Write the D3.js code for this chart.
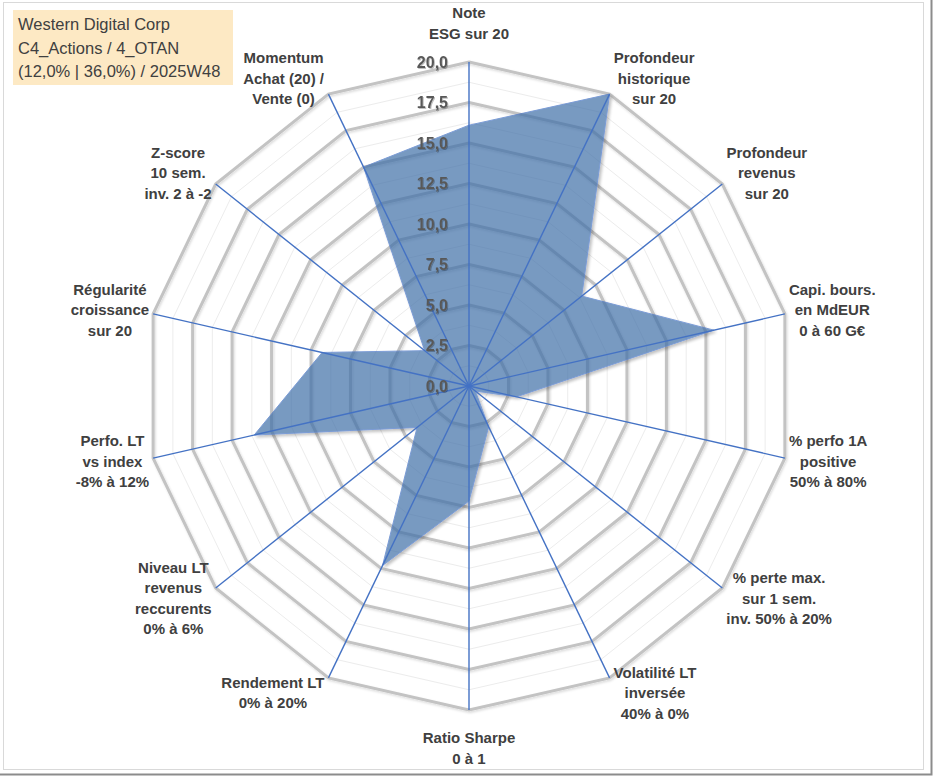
<!DOCTYPE html>
<html>
<head>
<meta charset="utf-8">
<script src="https://cdn.jsdelivr.net/npm/d3@7"></script>
<style>
  body { margin: 0; background: #ffffff; }
  svg { display: block; }
</style>
</head>
<body>
<svg id="radar"></svg>
<script>
// Chart data
const categories = [
  "Note\nESG sur 20",
  "Profondeur\nhistorique\nsur 20",
  "Profondeur\nrevenus\nsur 20",
  "Capi. bours.\nen MdEUR\n0 à 60 G€",
  "% perfo 1A\npositive\n50% à 80%",
  "% perte max.\nsur 1 sem.\ninv. 50% à 20%",
  "Volatilité LT\ninversée\n40% à 0%",
  "Ratio Sharpe\n0 à 1",
  "Rendement LT\n0% à 20%",
  "Niveau LT\nrevenus\nreccurents\n0% à 6%",
  "Perfo. LT\nvs index\n-8% à 12%",
  "Régularité\ncroissance\nsur 20",
  "Z-score\n10 sem.\ninv. 2 à -2",
  "Momentum\nAchat (20) /\nVente (0)"
];
const values = [16.1, 20.0, 8.9, 15.5, 3.0, 0.5, 2.8, 7.1, 12.3, 4.1, 13.6, 9.3, 3.5, 15.0];
const majorTicks = [0, 2.5, 5, 7.5, 10, 12.5, 15, 17.5, 20];
const minorTicks = [1.25, 3.75, 6.25, 8.75, 11.25, 13.75, 16.25, 18.75];
const titleLines = ["Western Digital Corp", "C4_Actions / 4_OTAN", "(12,0% | 36,0%) / 2025W48"];

const width = 933;
const height = 776;
const cx = 469;
const cy = 386;
const R = 324;

const frLocale = d3.formatLocale({ decimal: ",", thousands: " ", grouping: [3], currency: ["", " €"] });
const tickFormat = frLocale.format(".1f");

function drawRadar() {
  const svg = d3.select("#radar").attr("width", width).attr("height", height);

  // Filters for the soft Excel-like shadows
  const defs = svg.append("defs");
  defs.append("filter").attr("id", "ringShadow")
    .attr("x", "-10%").attr("y", "-10%").attr("width", "120%").attr("height", "120%")
    .append("feDropShadow")
    .attr("dx", 1).attr("dy", 1.5).attr("stdDeviation", 1)
    .attr("flood-color", "#000").attr("flood-opacity", 0.15);
  defs.append("filter").attr("id", "areaShadow")
    .attr("x", "-10%").attr("y", "-10%").attr("width", "120%").attr("height", "120%")
    .append("feDropShadow")
    .attr("dx", 2).attr("dy", 2).attr("stdDeviation", 1.5)
    .attr("flood-color", "#000").attr("flood-opacity", 0.35);
  defs.append("filter").attr("id", "textShadow")
    .append("feDropShadow")
    .attr("dx", 1).attr("dy", 1).attr("stdDeviation", 0.6)
    .attr("flood-color", "#000").attr("flood-opacity", 0.25);

  // Background and frame
  svg.append("rect")
    .attr("width", width).attr("height", height)
    .attr("fill", "#ffffff");
  svg.append("rect")
    .attr("x", 3.5).attr("y", 2.5)
    .attr("width", 920).attr("height", 767)
    .attr("fill", "none")
    .attr("stroke", "#d9d9d9");
  svg.append("path")
    .attr("d", `M${width - 1.5},0 V${height - 1.5} H0`)
    .attr("fill", "none")
    .attr("stroke", "#8c8c8c")
    .attr("stroke-width", 2);

  const n = categories.length;
  const angle = d3.scaleLinear().domain([0, n]).range([0, 2 * Math.PI]);
  const r = d3.scaleLinear().domain([0, 20]).range([0, R]);

  const g = svg.append("g").attr("transform", `translate(${cx},${cy})`);

  const ring = (v) =>
    d3.lineRadial()
      .angle((d, i) => angle(i))
      .radius(() => r(v))
      .curve(d3.curveLinearClosed)(d3.range(n));

  // Minor gridlines
  g.append("g")
    .selectAll("path")
    .data(minorTicks)
    .enter()
    .append("path")
    .attr("d", (d) => ring(d))
    .attr("fill", "none")
    .attr("stroke", "#ececec")
    .attr("stroke-width", 1);

  // Major gridlines
  g.append("g")
    .attr("filter", "url(#ringShadow)")
    .selectAll("path")
    .data(majorTicks.filter((d) => d > 0))
    .enter()
    .append("path")
    .attr("d", (d) => ring(d))
    .attr("fill", "none")
    .attr("stroke", "#c3c3c3")
    .attr("stroke-width", 3)
    .attr("stroke-linejoin", "miter");

  // Series area (opaque shape + shadow, made see-through as a group)
  const area = d3.lineRadial()
    .angle((d, i) => angle(i))
    .radius((d) => r(d))
    .curve(d3.curveLinearClosed);

  g.append("g")
    .attr("opacity", 0.7)
    .append("path")
    .datum(values)
    .attr("d", area)
    .attr("fill", "#3f6fa8")
    .attr("stroke", "#4472c4")
    .attr("stroke-width", 1)
    .attr("filter", "url(#areaShadow)");

  // Spokes
  g.append("g")
    .selectAll("line")
    .data(d3.range(n))
    .enter()
    .append("line")
    .attr("x1", 0)
    .attr("y1", 0)
    .attr("x2", (i) => r(20) * Math.sin(angle(i)))
    .attr("y2", (i) => -r(20) * Math.cos(angle(i)))
    .attr("stroke", "#4472c4")
    .attr("stroke-width", 1.4);

  // Value labels along the top spoke
  g.append("g")
    .attr("filter", "url(#textShadow)")
    .selectAll("text")
    .data(majorTicks)
    .enter()
    .append("text")
    .attr("x", -21)
    .attr("y", (d) => -r(d))
    .attr("dy", "0.36em")
    .attr("text-anchor", "end")
    .attr("font-family", "'Liberation Sans', Arial, sans-serif")
    .attr("font-weight", "bold")
    .attr("font-size", "16px")
    .attr("fill", "#595959")
    .text((d) => tickFormat(d));

  // Category labels
  const lineH = 20.5;
  categories.forEach((label, i) => {
    const a = angle(i);
    const s = Math.sin(a);
    const c = Math.cos(a);
    const vx = r(20) * s;
    const vy = -r(20) * c;
    const lines = label.split("\n");
    const h = lines.length * lineH;

    const text = g.append("text")
      .attr("text-anchor", "middle")
      .attr("font-family", "'Liberation Sans', Arial, sans-serif")
      .attr("font-weight", "bold")
      .attr("font-size", "15px")
      .attr("fill", "#404040");

    // stack the lines first so the block width can be measured
    text.selectAll("tspan")
      .data(lines)
      .enter()
      .append("tspan")
      .attr("x", 0)
      .attr("y", (d, k) => k * lineH)
      .text((d) => d);
    const w = text.node().getBBox().width;

    let x;
    let yc;
    if (Math.abs(s) < 0.05) {
      x = vx;
      yc = vy - c * (18 + h / 2);
    } else {
      x = vx + Math.sign(s) * (w / 2 + 4);
      yc = vy - c * 17;
    }
    const y0 = yc - ((lines.length - 1) * lineH) / 2 + 5;
    text.selectAll("tspan")
      .attr("x", x)
      .attr("y", (d, k) => y0 + k * lineH);
  });

  // Title box
  const box = svg.append("g");
  box.append("rect")
    .attr("x", 13)
    .attr("y", 10)
    .attr("width", 220)
    .attr("height", 75)
    .attr("fill", "#fde9c4");
  box.selectAll("text")
    .data(titleLines)
    .enter()
    .append("text")
    .attr("x", 18)
    .attr("y", (d, i) => 30 + i * 23.5)
    .attr("font-family", "'Liberation Sans', Arial, sans-serif")
    .attr("font-size", "16.5px")
    .attr("fill", "#404040")
    .text((d) => d);
}

drawRadar();
</script>
</body>
</html>
